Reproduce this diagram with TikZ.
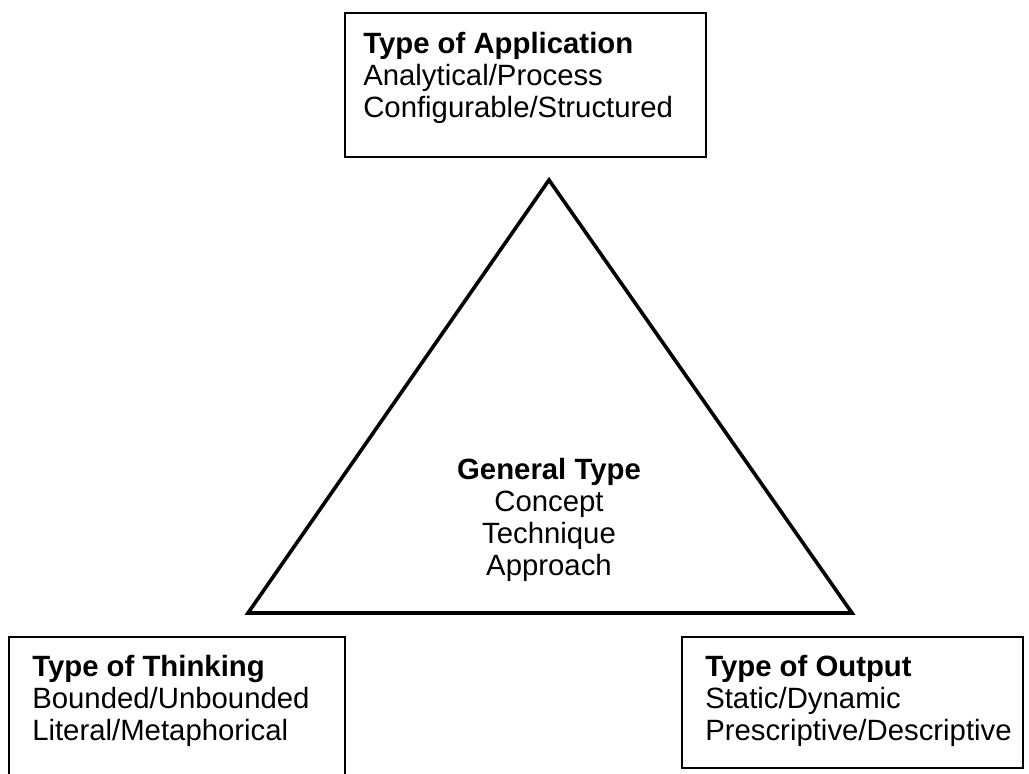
\documentclass[tikz,border=0pt]{standalone}
\usepackage{fontspec}
\setmainfont{Liberation Sans}
\begin{document}
\begin{tikzpicture}[x=0.75pt,y=-0.75pt,
  box/.style={draw=black,line width=1.3pt},
  label/.style={anchor=north west,inner sep=0pt,align=left,font=\fontsize{22}{24}\selectfont},
  clabel/.style={inner sep=0pt,align=center,font=\fontsize{22}{24}\selectfont},
  tri/.style={draw=black,line width=2.7pt,line join=miter}]
\useasboundingbox[fill=white] (0,0) rectangle (1029,774);
% boxes
\draw[box] (345,13) rectangle (706,157);
\draw[box] (9,790) -- (9,637) -- (345,637) -- (345,790);
\draw[box] (682,637) rectangle (1023,768);
% texts
\node[label] (app) at (363,31.5) {\textbf{Type of Application}\\Analytical/Process\\Configurable/Structured};
\node[label] (think) at (32,655) {\textbf{Type of Thinking}\\Bounded/Unbounded\\Literal/Metaphorical};
\node[label] (out) at (705,655) {\textbf{Type of Output}\\Static/Dynamic\\Prescriptive/Descriptive};
% triangle
\coordinate (top) at (549,180);
\coordinate (bl) at (248,613);
\coordinate (br) at (852,613);
\draw[tri] (top) -- (bl) -- (br) -- cycle;
\node[clabel,anchor=north] (gen) at (549,458) {\textbf{General Type}\\Concept\\Technique\\Approach};
\end{tikzpicture}
\end{document}
